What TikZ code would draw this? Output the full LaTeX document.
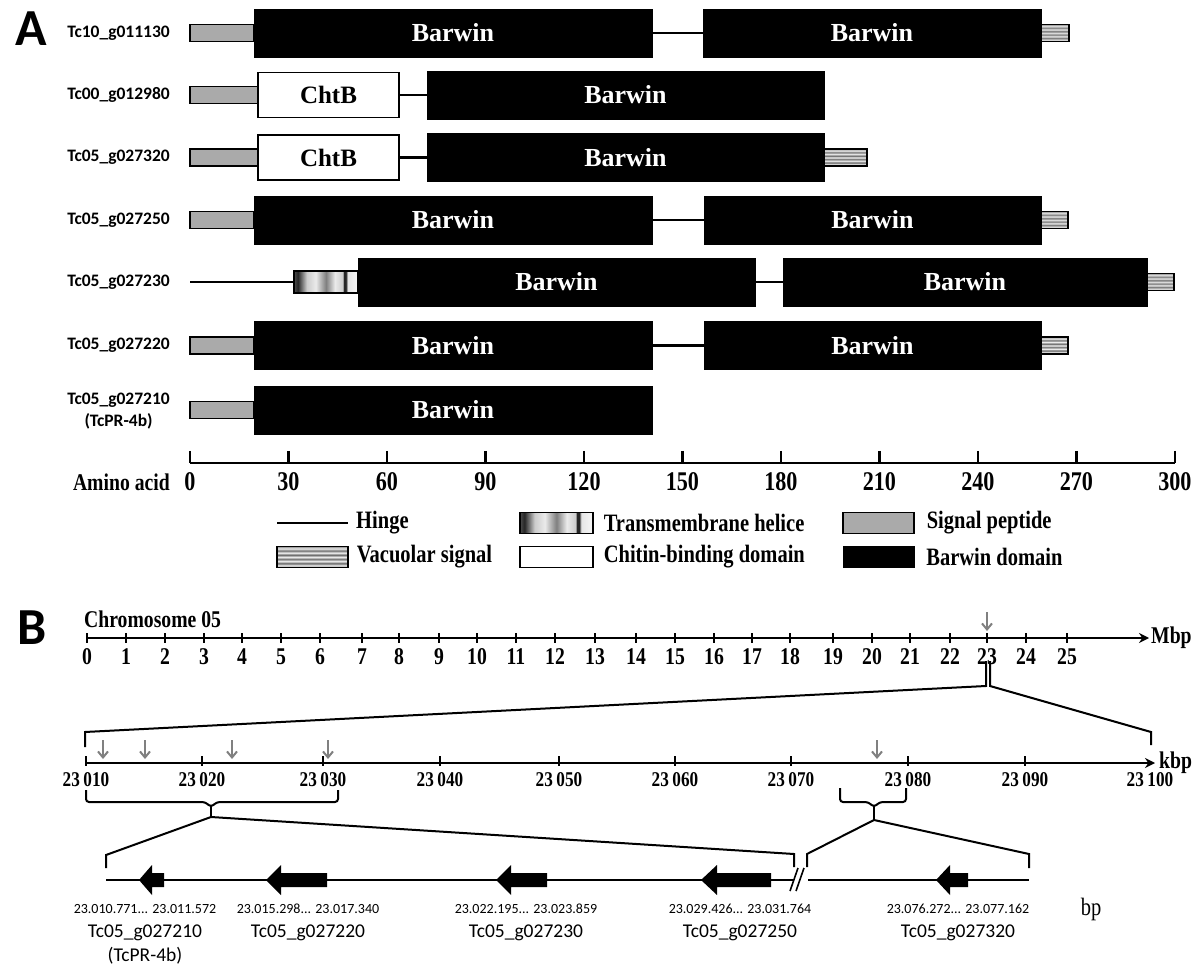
\documentclass[tikz,border=0pt]{standalone}
\usepackage{fontspec}
\setmainfont{Liberation Serif}
\newfontfamily\cserif[FakeStretch=0.82]{Liberation Serif}
\newfontfamily\calib{Carlito}
\usetikzlibrary{positioning, arrows.meta}
\definecolor{spGray}{RGB}{170,170,170}
\definecolor{arrGray}{RGB}{128,128,128}
\pgfdeclarehorizontalshading{tmshade}{100bp}{color(0bp)=(black!70); color(25bp)=(black!70);
  color(28bp)=(black!85); color(35bp)=(black!20); color(42bp)=(black!8); color(50bp)=(black!50);
  color(57bp)=(black!8); color(63bp)=(black!20); color(64bp)=(black!85); color(65.5bp)=(black!85);
  color(67bp)=(black!10); color(75bp)=(black!3); color(100bp)=(black!3)}
\pgfdeclareverticalshading{vacshade}{100bp}{color(0bp)=(black!50); color(25bp)=(black!50);
  color(30bp)=(black!8); color(35bp)=(black!60); color(40bp)=(black!5); color(45bp)=(black!55);
  color(50bp)=(black!5); color(55bp)=(black!60); color(60bp)=(black!5); color(65bp)=(black!55);
  color(70bp)=(black!8); color(75bp)=(black!45); color(100bp)=(black!45)}
\tikzset{
  every node/.style={inner sep=0pt},
  BW/.style={draw=black, fill=black, text=white, minimum height=48pt, font=\bfseries\fontsize{26}{30}\selectfont},
  CB/.style={draw=black, line width=1.2pt, fill=white, minimum height=45pt, font=\bfseries\fontsize{25}{30}\selectfont},
  SP/.style={draw=black, line width=1.2pt, fill=spGray, minimum height=17pt},
  VS/.style={draw=black, line width=1.2pt, shading=vacshade, minimum height=17pt},
  TM/.style={draw=black, line width=1.2pt, shading=tmshade, minimum height=22pt},
  HINGE/.style={line width=2.4pt},
  ROW/.style={font=\calib\bfseries\fontsize{17.5}{22}\selectfont, align=center, anchor=east},
  PANEL/.style={font=\calib\bfseries\fontsize{52}{56}\selectfont},
  AXIS/.style={line width=2.6pt},
  TICKA/.style={font=\cserif\bfseries\fontsize{27}{30}\selectfont},
  LEG/.style={font=\cserif\bfseries\fontsize{25}{28}\selectfont, anchor=west},
  AXISB/.style={line width=2pt, -{Stealth[length=10pt, width=10pt]}},
  TICKB/.style={line width=2pt},
  CHRL/.style={font=\cserif\bfseries\fontsize{24}{26}\selectfont},
  KBPL/.style={font=\cserif\bfseries\fontsize{21}{24}\selectfont},
  GARR/.style={arrGray, line width=2pt, -{Straight Barb[length=6pt, width=10pt]}},
  ZOOM/.style={line width=2pt},
  GCOORD/.style={font=\calib\fontsize{14}{17}\selectfont},
  GNAME/.style={font=\calib\fontsize{19.5}{23}\selectfont},
}
\newcommand{\dom}[6]{\node[#1, minimum width={(#4-#3)*1pt}] (#2) at ({(#3+#4)/2},#5) {#6};}
\newcommand{\genearr}[3]{\fill (#3,873) -- (#2,873) -- (#2,865) -- (#1,880) -- (#2,895) -- (#2,887) -- (#3,887) -- cycle;}

\begin{document}
\begin{tikzpicture}[x=1pt, y=1pt, yscale=-1]
\useasboundingbox (0,0) rectangle (1200,973);

%% Panel A --- domain architecture
\node[PANEL] (pA) at (31,29) {A};

\node[ROW] (lab1) at (170,33) {Tc10\_g011130};
\dom{SP}{sp1}{190}{254}{33}{}
\dom{BW}{bw1a}{254}{652}{33}{Barwin}
\dom{BW}{bw1b}{703}{1041}{33}{Barwin}
\dom{VS}{vs1}{1041}{1069}{33}{}
\draw[HINGE] (bw1a.east) -- (bw1b.west);

\node[ROW] (lab2) at (170,95) {Tc00\_g012980};
\dom{SP}{sp2}{190}{258}{95}{}
\dom{CB}{cb2}{258}{399}{95}{ChtB}
\dom{BW}{bw2}{427}{824}{95}{Barwin}
\draw[HINGE] (cb2.east) -- (bw2.west);

\node[ROW] (lab3) at (170,157.5) {Tc05\_g027320};
\dom{SP}{sp3}{190}{258}{157.5}{}
\dom{CB}{cb3}{258}{399}{157.5}{ChtB}
\dom{BW}{bw3}{427}{824}{157.5}{Barwin}
\dom{VS}{vs3}{824}{867}{157.5}{}
\draw[HINGE] (cb3.east) -- (bw3.west);

\node[ROW] (lab4) at (170,220) {Tc05\_g027250};
\dom{SP}{sp4}{190}{254}{220}{}
\dom{BW}{bw4a}{254}{652}{220}{Barwin}
\dom{BW}{bw4b}{704}{1041}{220}{Barwin}
\dom{VS}{vs4}{1041}{1068}{220}{}
\draw[HINGE] (bw4a.east) -- (bw4b.west);

\node[ROW] (lab5) at (170,282) {Tc05\_g027230};
\coordinate (st5) at (190,282);
\dom{TM}{tm5}{294}{358}{282}{}
\dom{BW}{bw5a}{358}{755}{282}{Barwin}
\dom{BW}{bw5b}{783}{1147}{282}{Barwin}
\dom{VS}{vs5}{1147}{1174}{282}{}
\draw[HINGE] (st5) -- (tm5.west);
\draw[HINGE] (bw5a.east) -- (bw5b.west);

\node[ROW] (lab6) at (170,345.5) {Tc05\_g027220};
\dom{SP}{sp6}{190}{254}{345.5}{}
\dom{BW}{bw6a}{254}{652}{345.5}{Barwin}
\dom{BW}{bw6b}{704}{1041}{345.5}{Barwin}
\dom{VS}{vs6}{1041}{1068}{345.5}{}
\draw[HINGE] (bw6a.east) -- (bw6b.west);

\node[ROW] (lab7) at (170,411) {Tc05\_g027210\\(TcPR-4b)};
\dom{SP}{sp7}{190}{254}{410}{}
\dom{BW}{bw7}{254}{652}{410}{Barwin}

%% amino acid scale
\coordinate (ax0) at (190,463);
\coordinate (ax1) at (1175,463);
\draw[AXIS] (ax0) -- (ax1);
\foreach \v in {0,30,...,300} {
  \draw[AXIS] ({190+\v*3.283},451) -- ({190+\v*3.283},463);
  \node[TICKA] (aa\v) at ({190+\v*3.283},482) {\v};
}
\node[TICKA, font=\cserif\bfseries\fontsize{24}{28}\selectfont, anchor=east] (aaT) at (170,482) {Amino acid};

%% legend
\coordinate (kH0) at (277,523);
\coordinate (kH1) at (348,523);
\draw[HINGE] (kH0) -- (kH1);
\node[LEG] (kHt) at (356,523) {Hinge};
\dom{TM, minimum height=21pt}{kTM}{520}{593}{523}{}
\node[LEG, right=10pt of kTM] (kTMt) {Transmembrane helice};
\dom{SP, minimum height=21pt}{kSP}{843}{914}{523}{}
\node[LEG, right=12pt of kSP] (kSPt) {Signal peptide};
\dom{VS, minimum height=21pt}{kVS}{277}{348}{557}{}
\node[LEG, right=8pt of kVS] (kVSt) {Vacuolar signal};
\dom{CB, minimum height=21pt}{kCB}{520}{593}{557}{}
\node[LEG, right=10pt of kCB] (kCBt) {Chitin-binding domain};
\dom{BW, minimum height=21pt}{kBW}{843}{914}{557}{}
\node[LEG, right=12pt of kBW] (kBWt) {Barwin domain};

%% Panel B --- chromosome 05
\node[PANEL] (pB) at (32,628) {B};
\node[CHRL, anchor=west] (chrT) at (84,619) {Chromosome 05};
\coordinate (c0) at (87,638);
\coordinate (cE) at (1149,638);
\draw[AXISB] (c0) -- (cE);
\node[CHRL, anchor=west] (mbp) at (1151,638) {Mbp};
\foreach \x [count=\i from 0] in {87,126,165,204,242,281,320,362,399,439,477,516,555,595,636,675,714,752,790,833,872,910,950,987,1026,1067} {
  \draw[TICKB] (\x,633) -- (\x,643);
  \node[CHRL] (m\i) at (\x,657) {\i};
}
\coordinate (g23a) at (987,612);
\coordinate (g23b) at (987,631);
\draw[GARR] (g23a) -- (g23b);

%% zoom to 23 Mbp
\coordinate (zA) at (986,661);
\coordinate (zB) at (986,686);
\coordinate (zC) at (85,732);
\coordinate (zD) at (85,747);
\draw[ZOOM] (zA) -- (zB) -- (zC) -- (zD);
\coordinate (zE) at (990,661);
\coordinate (zF) at (990,686);
\coordinate (zG) at (1151,732);
\coordinate (zH) at (1151,745);
\draw[ZOOM] (zE) -- (zF) -- (zG) -- (zH);

%% kbp scale
\coordinate (k0) at (86,763);
\coordinate (kE) at (1155,763);
\draw[AXISB] (k0) -- (kE);
\node[CHRL, anchor=west] (kbp) at (1159,763) {kbp};
\foreach \x/\t in {86/010,202/020,323/030,440/040,559/050,675/060,791/070,908/080,1025/090} {
  \draw[TICKB] (\x,756) -- (\x,766);
  \node[KBPL] (k\t) at (\x,780) {23\,\t};
}
\node[KBPL] (k100) at (1150,780) {23\,100};
\foreach \x [count=\i] in {103,145,232,328,877} {
  \coordinate (ga\i) at (\x,740);
  \coordinate (gb\i) at (\x,759);
  \draw[GARR] (ga\i) -- (gb\i);
}

%% brackets and zoom to bp
\draw[ZOOM, rounded corners=3pt] (86,790) |- (205,802) -- (211,807) -- (217,802) -| (338,790);
\coordinate (bL) at (211,817);
\draw[ZOOM] (211,806) -- (bL);
\coordinate (bL1) at (106,855);
\coordinate (bL2) at (106,868);
\coordinate (bL3) at (794,854);
\coordinate (bL4) at (794,867);
\draw[ZOOM] (bL2) -- (bL1) -- (bL) -- (bL3) -- (bL4);

\draw[ZOOM, rounded corners=3pt] (840,788) |- (868,802) -- (874,807) -- (880,802) -| (906,788);
\coordinate (bR) at (874,820);
\draw[ZOOM] (874,806) -- (bR);
\coordinate (bR1) at (807,854);
\coordinate (bR2) at (807,867);
\coordinate (bR3) at (1029,854);
\coordinate (bR4) at (1029,868);
\draw[ZOOM] (bR2) -- (bR1) -- (bR) -- (bR3) -- (bR4);

%% bp line with genes
\coordinate (l0) at (106,880);
\coordinate (l1) at (793,880);
\coordinate (l2) at (808,880);
\coordinate (l3) at (1029,880);
\draw[ZOOM] (l0) -- (l1);
\draw[ZOOM] (l2) -- (l3);
\draw[line width=1.6pt] (790,891) -- (798,868);
\draw[line width=1.6pt] (796,891) -- (804,868);

\genearr{139}{152}{164}
\genearr{266}{281}{327}
\genearr{496}{511}{547}
\genearr{701}{717}{771}
\genearr{936}{950}{968}

\node[GCOORD] (c210) at (145,909) {23.010.771... 23.011.572};
\node[GNAME] (n210) at (145,933) {Tc05\_g027210};
\node[GNAME] (n210b) at (145,956) {(TcPR-4b)};
\node[GCOORD] (c220) at (308,909) {23.015.298... 23.017.340};
\node[GNAME] (n220) at (308,933) {Tc05\_g027220};
\node[GCOORD] (c230) at (526,909) {23.022.195... 23.023.859};
\node[GNAME] (n230) at (526,933) {Tc05\_g027230};
\node[GCOORD] (c250) at (740,909) {23.029.426... 23.031.764};
\node[GNAME] (n250) at (740,933) {Tc05\_g027250};
\node[GCOORD] (c320) at (958,909) {23.076.272... 23.077.162};
\node[GNAME] (n320) at (958,933) {Tc05\_g027320};
\node[font=\cserif\fontsize{25}{28}\selectfont] (bpT) at (1091,909) {bp};

\end{tikzpicture}
\end{document}
